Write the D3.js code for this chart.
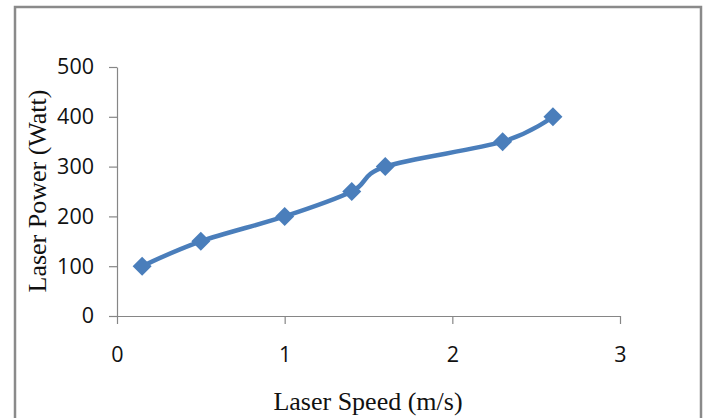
<!DOCTYPE html>
<html>
<head>
<meta charset="utf-8">
<script src="https://cdn.jsdelivr.net/npm/d3@7"></script>
<style>
  body { margin: 0; background: #fff; }
  svg { display: block; }
</style>
</head>
<body>
<div id="chart"></div>
<script>
// Data
const speeds = [0.15, 0.5, 1, 1.4, 1.6, 2.3, 2.6];
const powers = [100, 150, 200, 250, 300, 350, 400];
const xTicks = [0, 1, 2, 3];
const yTicks = [0, 100, 200, 300, 400, 500];

const W = 707, H = 418;
const margin = { top: 67, right: 87, bottom: 102, left: 117 };
const width = W - margin.left - margin.right;
const height = H - margin.top - margin.bottom;

const svg = d3.select("#chart")
    .append("svg")
    .attr("width", W)
    .attr("height", H);

// Outer frame
svg.append("rect")
    .attr("x", 15)
    .attr("y", 7)
    .attr("width", 686)
    .attr("height", 420)
    .attr("fill", "none")
    .attr("stroke", "#8a8a8a")
    .attr("stroke-width", 2.5);

const g = svg.append("g")
    .attr("transform", `translate(${margin.left},${margin.top})`);

const x = d3.scaleLinear().domain([0, 3]).range([0, width]);
const y = d3.scaleLinear().domain([0, 500]).range([height, 0]);

// Axes
const xAxis = g.append("g")
    .attr("transform", `translate(0,${height})`)
    .call(d3.axisBottom(x).tickValues(xTicks).tickSize(8).tickPadding(23).tickSizeOuter(0).tickFormat(d3.format("d")));

const yAxis = g.append("g")
    .call(d3.axisLeft(y).tickValues(yTicks).tickSize(8).tickPadding(15).tickSizeOuter(0).tickFormat(d3.format("d")));

[xAxis, yAxis].forEach(a => {
    a.selectAll("path, line").attr("stroke", "#868686").attr("stroke-width", 1.2);
    a.selectAll("text")
        .attr("fill", "#111")
        .style("font-family", "'Open Sans', sans-serif")
        .style("font-size", "21.5px");
});

// Smoothed line
const pts = speeds.map((s, i) => [s, powers[i]]);
const line = d3.line()
    .x(d => x(d[0]))
    .y(d => y(d[1]))
    .curve(d3.curveCardinal.tension(0));

g.append("path")
    .datum(pts)
    .attr("d", line)
    .attr("fill", "none")
    .attr("stroke", "#4a7ebb")
    .attr("stroke-width", 4.5)
    .attr("stroke-linejoin", "round");

// Diamond markers
const r = 9.5;
g.selectAll(".marker")
    .data(pts)
    .enter().append("path")
    .attr("class", "marker")
    .attr("d", `M0,${-r}L${r},0L0,${r}L${-r},0Z`)
    .attr("transform", d => `translate(${x(d[0])},${y(d[1])})`)
    .attr("fill", "#4a7ebb");

// Axis titles
svg.append("text")
    .attr("x", 368)
    .attr("y", 410)
    .attr("text-anchor", "middle")
    .style("font-family", "'Liberation Serif', 'Times New Roman', serif")
    .style("font-size", "26px")
    .attr("fill", "#111")
    .text("Laser Speed (m/s)");

svg.append("text")
    .attr("transform", "translate(46,191) rotate(-90)")
    .attr("text-anchor", "middle")
    .style("font-family", "'Liberation Serif', 'Times New Roman', serif")
    .style("font-size", "26px")
    .attr("fill", "#111")
    .text("Laser Power (Watt)");
</script>
</body>
</html>
